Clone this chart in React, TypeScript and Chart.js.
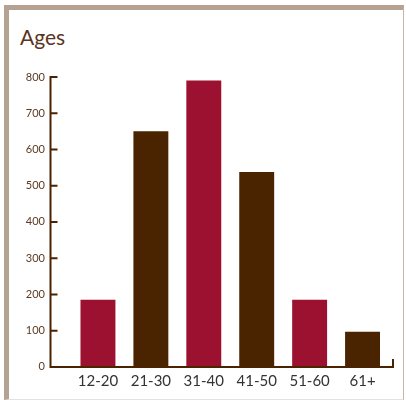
import React, { useEffect, useRef } from "react";
import { Chart, registerables } from "chart.js";

Chart.register(...registerables);

const categories = ["12-20", "21-30", "31-40", "41-50", "51-60", "61+"];
const counts = [185, 650, 790, 538, 185, 97];
const yTicks = [0, 100, 200, 300, 400, 500, 600, 700, 800];

const CRIMSON = "#9c1130";
const BROWN = "#4a2300";
const AXIS_COLOR = "#4a2300";
const AXIS_GAP = 21;

const axisPlugin = {
  id: "customAxes",
  afterDatasetsDraw(chart: any) {
    const { ctx, chartArea, scales } = chart;
    const y = scales.y;
    const ax = chartArea.left - AXIS_GAP;
    const bottom = y.getPixelForValue(0);
    const top = y.getPixelForValue(y.max);
    const rightEnd = chartArea.right + 4;
    ctx.save();
    ctx.strokeStyle = AXIS_COLOR;
    ctx.lineWidth = 2;
    ctx.lineCap = "butt";
    ctx.beginPath();
    ctx.moveTo(ax, top - 1);
    ctx.lineTo(ax, bottom);
    ctx.lineTo(rightEnd, bottom);
    ctx.lineTo(rightEnd, bottom - 8);
    ctx.stroke();
    ctx.beginPath();
    y.ticks.forEach((t: any) => {
      const py = y.getPixelForValue(t.value);
      if (t.value === 0) return;
      ctx.moveTo(ax, py);
      ctx.lineTo(ax + 7, py);
    });
    ctx.stroke();
    ctx.restore();
  },
};

export default function App() {
  const canvasRef = useRef<HTMLCanvasElement | null>(null);

  useEffect(() => {
    if (!canvasRef.current) return;
    const chart = new Chart(canvasRef.current, {
      type: "bar",
      data: {
        labels: categories,
        datasets: [
          {
            data: counts,
            backgroundColor: counts.map((_, i) => (i % 2 === 0 ? CRIMSON : BROWN)),
            borderWidth: 0,
            categoryPercentage: 1,
            barPercentage: 0.66,
          },
        ],
      },
      options: {
        animation: false,
        responsive: true,
        maintainAspectRatio: false,
        layout: { padding: { top: 77, right: 17, left: 0, bottom: 0 } },
        plugins: {
          legend: { display: false },
          tooltip: { enabled: false },
          title: { display: false },
        },
        scales: {
          x: {
            offset: true,
            grid: { display: false, drawTicks: false },
            border: { display: false },
            ticks: {
              padding: 5,
              color: "#333333",
              font: { family: "Lato", size: 15 },
              maxRotation: 0,
              autoSkip: false,
            },
            afterFit: (scale: any) => {
              scale.height = 33;
            },
          },
          y: {
            min: 0,
            max: 800,
            afterBuildTicks: (scale: any) => {
              scale.ticks = yTicks.map((v) => ({ value: v }));
            },
            grid: { display: false, drawTicks: false },
            border: { display: false },
            ticks: {
              padding: 26.5,
              color: "#5a3a22",
              font: { family: "Lato", size: 11 },
            },
            afterFit: (scale: any) => {
              scale.width = 71.5;
            },
          },
        },
      },
      plugins: [axisPlugin],
    });
    return () => chart.destroy();
  }, []);

  return (
    <div
      style={{
        position: "fixed",
        left: 0,
        top: 0,
        width: 406,
        height: 400,
        background: "#ffffff",
        overflow: "hidden",
      }}
    >
      <div
        style={{
          position: "absolute",
          left: 4,
          top: 5,
          width: 394,
          height: 389,
          borderTop: "5px solid #b6a293",
          borderLeft: "5px solid #b6a293",
          borderRight: "1px solid #c4b5aa",
          borderBottom: "1px solid #e2e2e2",
        }}
      />
      <div
        style={{
          position: "absolute",
          left: 20,
          top: 24,
          fontFamily: "Lato",
          fontSize: 21,
          color: "#5a3422",
          lineHeight: "26px",
        }}
      >
        Ages
      </div>
      <div style={{ position: "absolute", left: 0, top: 0, width: 406, height: 400 }}>
        <canvas ref={canvasRef} />
      </div>
    </div>
  );
}
